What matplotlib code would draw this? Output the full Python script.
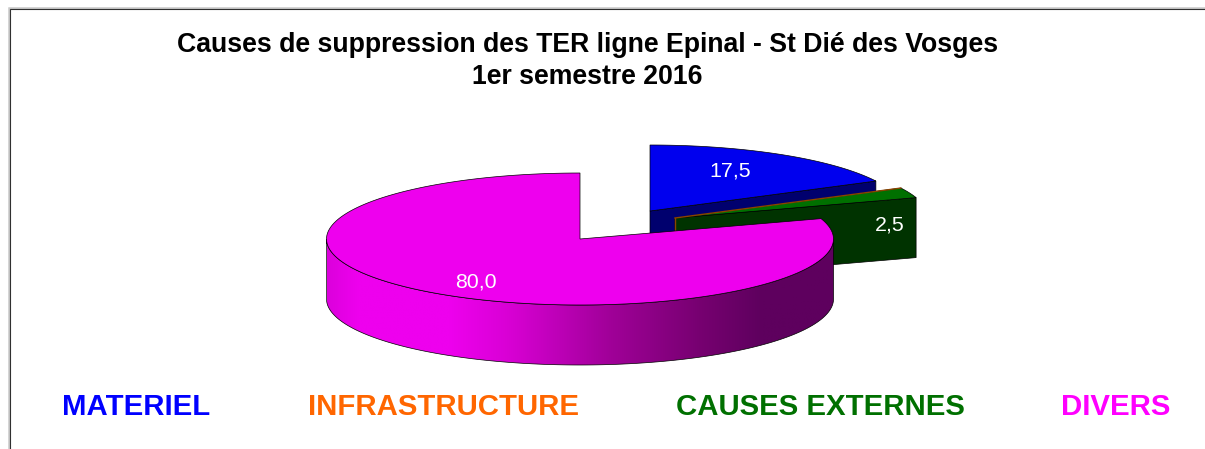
import numpy as np
import matplotlib
matplotlib.use("Agg")
import matplotlib.pyplot as plt
from matplotlib.patches import Polygon
from matplotlib.colors import LinearSegmentedColormap

plt.rcParams['font.family'] = ['Liberation Sans', 'DejaVu Sans']

# ---- data ----
title_lines = ["Causes de suppression des TER ligne Epinal - St Dié des Vosges", "1er semestre 2016"]
categories = ["MATERIEL", "INFRASTRUCTURE", "CAUSES EXTERNES", "DIVERS"]
values = [17.5, 0.0, 2.5, 80.0]

# ---- style / layout ----
legend_colors = ["#0000ff", "#ff6600", "#007000", "#ff00ff"]
legend_x = [136, 443, 820, 1116]
top_colors = ["#0000ee", "#8a4400", "#007000", "#ee00ee"]
face_colors = ["#00006e", "#8a4400", "#003300", "#600060"]
apex = [(650, 211), (675, 218), (675, 218), (580, 239)]   # exploded slice centres
label_offset = [(80, -40), None, (215, 7), (-104, 43)]
RX, RY, DEPTH = 253.5, 66, 60

fig = plt.figure(figsize=(12.05, 4.49), dpi=100)
ax = fig.add_axes([0, 0, 1, 1])
ax.set_xlim(0, 1205)
ax.set_ylim(449, 0)
ax.axis("off")

# frame (top and left edges only)
ax.plot([9, 9, 1205], [449, 8, 8], color="#c8c8c8", lw=1.8, zorder=1, solid_joinstyle="miter")
ax.plot([9.5, 9.5, 1205], [449, 8.5, 8.5], color="#303030", lw=0.8, zorder=1.1, solid_joinstyle="miter")


def arc(c, a0, a1, n=160):
    t = np.radians(np.linspace(a0, a1, n))
    return np.column_stack([c[0] + RX * np.sin(t), c[1] - RY * np.cos(t)])


edges = np.concatenate([[0], np.cumsum(values)]) * 3.6
LW = 0.5

for i, (v, c) in enumerate(zip(values, apex)):
    a0, a1 = edges[i], edges[i + 1]
    z = 2 + i
    if v == 0:
        # empty slice: only its hairline remains along the neighbouring edge
        e = arc(c, a0, a0, 1)[0]
        ax.plot([c[0], e[0]], [c[1], e[1]], color=top_colors[i], lw=1.0, zorder=4.8)
        ax.plot([c[0], c[0]], [c[1], c[1] + DEPTH], color=top_colors[i], lw=1.0, zorder=4.8)
        continue
    pts = arc(c, a0, a1)
    if i < 3:
        # radial cut face seen from the front
        e = pts[-1]
        ax.add_patch(Polygon([c, e, (e[0], e[1] + DEPTH), (c[0], c[1] + DEPTH)],
                             closed=True, fc=face_colors[i], ec="black", lw=LW, zorder=z))
    else:
        # outer rim with a horizontal shading gradient
        rim_top = arc(c, 90, 270)
        rim_bot = rim_top[::-1] + [0, DEPTH]
        rim = Polygon(np.vstack([rim_top, rim_bot]), closed=True, fc="none", ec="black", lw=LW, zorder=z + 0.2)
        cmap = LinearSegmentedColormap.from_list("rim", [
            (0.00, "#dc00dc"), (0.06, "#ee00ee"), (0.24, "#ee00ee"), (0.36, "#d800d4"),
            (0.56, "#a00098"), (0.74, "#760070"), (0.86, "#5e005e"), (1.00, "#5e005e")])
        x0, x1 = c[0] - RX, c[0] + RX
        im = ax.imshow(np.linspace(0, 1, 512)[None, :], cmap=cmap, aspect="auto",
                       extent=(x0, x1, c[1] + RY + DEPTH + 2, c[1] - 2), zorder=z + 0.1,
                       interpolation="bilinear")
        ax.add_patch(rim)
        im.set_clip_path(Polygon(np.vstack([rim_top, rim_bot]), closed=True, transform=ax.transData))
    # top face
    ax.add_patch(Polygon(np.vstack([[c], pts]), closed=True, fc=top_colors[i], ec="black",
                         lw=LW, zorder=z + 0.5, joinstyle="miter"))
    off = label_offset[i]
    ax.text(c[0] + off[0], c[1] + off[1], f"{v:.1f}".replace(".", ","), color="white",
            fontsize=15.4, ha="center", va="center", zorder=10)

ax.set_xlim(0, 1205)
ax.set_ylim(449, 0)

# title
for line, y in zip(title_lines, [45.5, 77.5]):
    ax.text(587.5, y, line, fontsize=19.2, fontweight="bold", color="black", ha="center", va="center", zorder=10)

# legend as coloured words
for name, col, x in zip(categories, legend_colors, legend_x):
    ax.text(x, 407, name, fontsize=21.2, fontweight="bold", color=col, ha="center", va="center", zorder=10)

fig.savefig("out.png", dpi=100, facecolor="white")
